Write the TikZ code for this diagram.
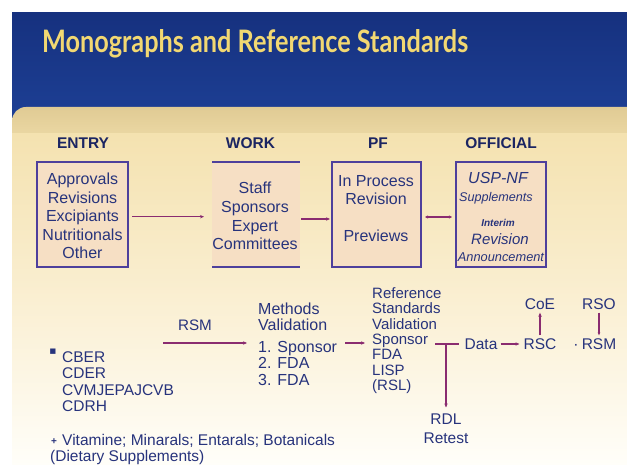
\documentclass[tikz,border=0pt]{standalone}
\usepackage{fontspec}
\setmainfont{Liberation Sans}
\newfontfamily\titlefont{Lato}
\newfontfamily\symfont{DejaVu Sans}
\usetikzlibrary{arrows.meta}

\definecolor{bandtop}{HTML}{16317F}
\definecolor{bandbot}{HTML}{1D3F94}
\definecolor{titleyellow}{HTML}{F2D872}
\definecolor{creamA}{HTML}{E0CB94}
\definecolor{creamB}{HTML}{F4E2B0}
\definecolor{creamC}{HTML}{FAEFD2}
\definecolor{creamD}{HTML}{FFFEF9}
\definecolor{textblue}{HTML}{27337C}
\definecolor{headblue}{HTML}{1B2562}
\definecolor{boxline}{HTML}{4E3F9C}
\definecolor{boxfill}{HTML}{F6DFC4}
\definecolor{flow}{HTML}{8A2C70}

\tikzset{
  txt/.style={inner sep=0pt, text=textblue},
  head/.style={inner sep=0pt, text=headblue, font=\bfseries\fontsize{15.5}{16}\selectfont},
  boxtxt/.style={txt, align=center, font=\fontsize{16}{18.6}\selectfont},
  offtxt/.style={txt, font=\itshape},
  lowtxt/.style={txt, align=left},
  panel/.style={draw=boxline, line width=1.1pt, fill=boxfill},
  flowline/.style={draw=flow, line width=1.2pt},
  flowarrow/.style={flowline, -{Stealth[length=4pt,width=3.4pt]}},
}

\begin{document}
\begin{tikzpicture}[x=1pt,y=-1pt]
\useasboundingbox (0,0) rectangle (627,465);
\clip (0,0) rectangle (627,465);
\fill[white] (0,0) rectangle (627,465);

% blue title band
\shade[top color=bandtop, bottom color=bandbot] (12,13) rectangle (627,118);
\node[anchor=base west, inner sep=0pt, text=titleyellow] (title) at (42,53)
  {\resizebox{426pt}{23pt}{\titlefont\bfseries Monographs and Reference Standards}};

% cream panel
\shade[top color=creamA, bottom color=creamB, rounded corners=14pt]
  (12,107) rectangle (660,160);
\shade[top color=creamB, bottom color=creamC] (12,134) rectangle (627,300);
\shade[top color=creamC, bottom color=creamD] (12,299) rectangle (627,465);

% column headings
\node[head] (hentry) at (83,143) {ENTRY};
\node[head] (hwork) at (250.5,143) {WORK};
\node[head] (hpf) at (378,143) {PF};
\node[head] (hoff) at (501,143) {OFFICIAL};

% boxes
\path[panel] (37,162) rectangle (128,267);
\fill[boxfill] (212,162) rectangle (300,267);
\draw[boxline, line width=1.1pt] (212,162) -- (300,162) (212,267) -- (300,267);
\path[panel] (332,162) rectangle (421,267);
\path[panel] (456,162) rectangle (546,267);

\node[boxtxt] (entry) at (82.5,216)
  {Approvals\\Revisions\\Excipiants\\Nutritionals\\Other};
\node[boxtxt] (work) at (255,216)
  {Staff\\Sponsors\\Expert\\Committees};
\node[boxtxt] (pf) at (376,208.5)
  {In Process\\Revision\\[18pt]Previews};

\node[offtxt, font=\itshape\fontsize{16}{16}\selectfont] (usp) at (498,178) {USP-NF};
\node[offtxt, font=\itshape\fontsize{12.6}{13}\selectfont] (supp) at (496,198.5) {Supplements};
\node[offtxt, font=\bfseries\itshape\fontsize{10}{10}\selectfont] (interim) at (498,223) {Interim};
\node[offtxt, font=\itshape\fontsize{15}{15}\selectfont] (rev) at (500,239) {Revision};
\node[offtxt, font=\itshape\fontsize{12.8}{13}\selectfont] (ann) at (501,257) {Announcement};

% flow between boxes
\coordinate (e1) at (132,216.7);
\coordinate (e2) at (204,216.7);
\draw[flowarrow] (e1) -- (e2);
\coordinate (w1) at (301,219);
\coordinate (w2) at (330,219);
\draw[flowarrow] (w1) -- (w2);
\coordinate (p1) at (425,217);
\coordinate (p2) at (452,217);
\draw[flowline, {Stealth[length=3pt,width=3pt]}-{Stealth[length=3pt,width=3pt]}] (p1) -- (p2);

% lower flow
\node[txt, font=\fontsize{15.2}{16}\selectfont] (rsmL) at (195,325) {RSM};
\coordinate (r1) at (163,343);
\coordinate (r2) at (247,343);
\draw[flowarrow] (r1) -- (r2);

\node[lowtxt, anchor=north west, font=\fontsize{16}{16.6}\selectfont] (methods) at (258,302.3)
  {Methods\\Validation\\[5pt]1. Sponsor\\2. FDA\\3. FDA};

\coordinate (m1) at (345,343);
\coordinate (m2) at (365,343);
\draw[flowarrow] (m1) -- (m2);

\node[lowtxt, anchor=north west, font=\fontsize{15}{15.4}\selectfont] (refstd) at (372,287.2)
  {Reference\\Standards\\Validation\\Sponsor\\FDA\\LISP\\(RSL)};

\node[txt, font=\fontsize{15.5}{16}\selectfont] (data) at (481,344) {Data};
\coordinate (d1) at (435,344);
\coordinate (dj) at (446,344);
\draw[flowline] (d1) -- ([xshift=-5pt]data.west);

\node[txt, font=\fontsize{15.5}{16}\selectfont] (rdl) at (446,419) {RDL};
\node[txt, font=\fontsize{15.5}{16}\selectfont] (retest) at (446,438) {Retest};
\draw[flowarrow] (dj) -- ([yshift=6pt]rdl.north);

\node[txt, font=\fontsize{15.5}{16}\selectfont] (rsc) at (540,344) {RSC};
\draw[flowarrow] ([xshift=3pt]data.east) -- ([xshift=-4pt]rsc.west);
\node[txt, font=\fontsize{15.5}{16}\selectfont] (coe) at (540,304) {CoE};
\draw[flowarrow] ([yshift=3pt]rsc.north) -- ([yshift=-3pt]coe.south);

\node[txt, font=\fontsize{15.5}{16}\selectfont] (rsmR) at (599,344) {RSM};
\node[txt, font=\fontsize{15.5}{16}\selectfont] (dot) at (576,346.5) {·};
\node[txt, font=\fontsize{15.5}{16}\selectfont] (rso) at (599,304) {RSO};
\draw[flowline, -{Stealth[length=3pt,width=2.6pt]}] ([yshift=-3pt]rso.south) -- ([yshift=3pt]rsmR.north);

% agencies and dietary supplements
\node[txt, font=\symfont\fontsize{7}{7}\selectfont] (star) at (53,352) {■};
\node[lowtxt, anchor=north west, font=\fontsize{15.5}{16.3}\selectfont] (centers) at (62,351.5)
  {CBER\\CDER\\CVMJEPAJCVB\\CDRH};
\node[txt, font=\bfseries\fontsize{10}{10}\selectfont] (plus) at (54,441.5) {+};
\node[txt, anchor=west, font=\fontsize{15.5}{16}\selectfont] (vit) at (62,441)
  {Vitamine; Minarals; Entarals; Botanicals};
\node[txt, anchor=west, font=\fontsize{15.5}{16}\selectfont] (diet) at (50,457)
  {(Dietary Supplements)};
\end{tikzpicture}
\end{document}
